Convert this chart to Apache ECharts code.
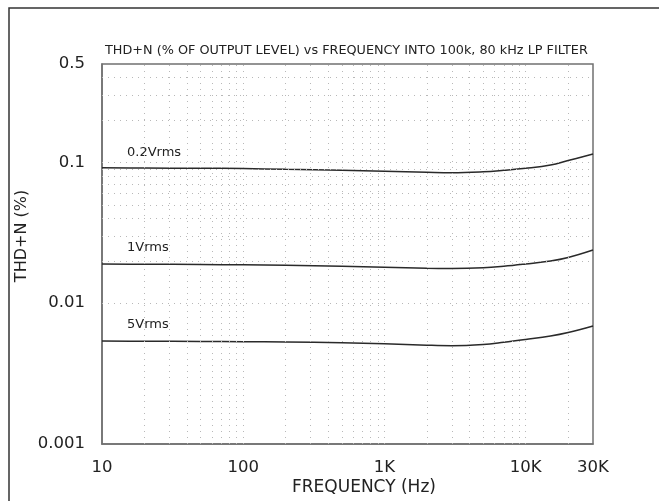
<!DOCTYPE html>
<html>
<head>
<meta charset="utf-8">
<script src="https://cdn.jsdelivr.net/npm/echarts@6/dist/echarts.min.js"></script>
<style>html,body{margin:0;padding:0;background:#fff}#c{width:659px;height:501px}</style>
</head>
<body>
<div id="c"></div>
<script>
var freqs = [10, 20, 50, 100, 200, 500, 1000, 2000, 3000, 5000, 7000, 10000, 15000, 20000, 30000];
var v02 = [0.0917, 0.0913, 0.0908, 0.0905, 0.0893, 0.0880, 0.0865, 0.0851, 0.0845, 0.0858, 0.0879, 0.0908, 0.0958, 0.1031, 0.1147];
var v1 = [0.01899, 0.01892, 0.01883, 0.01874, 0.01859, 0.01829, 0.01802, 0.01770, 0.01764, 0.01784, 0.01829, 0.01899, 0.01994, 0.02112, 0.02387];
var v5 = [0.005388, 0.005371, 0.005346, 0.005328, 0.005302, 0.005242, 0.005148, 0.005031, 0.004991, 0.005090, 0.005276, 0.005523, 0.005848, 0.006193, 0.006887];
var seriesNames = ['0.2Vrms', '1Vrms', '5Vrms'];
var xTickValues = [10, 100, 1000, 10000, 30000];
var xTickLabels = ['10', '100', '1K', '10K', '30K'];
var yTickValues = [0.001, 0.01, 0.1, 0.5];
var yTickLabels = ['0.001', '0.01', '0.1', '0.5'];
var xGridValues = [20,30,40,50,60,70,80,90,100,200,300,400,500,600,700,800,900,1000,2000,3000,4000,5000,6000,7000,8000,9000,10000,20000];
var yGridValues = [0.002,0.003,0.004,0.005,0.006,0.007,0.008,0.009,0.01,0.02,0.03,0.04,0.05,0.06,0.07,0.08,0.09,0.1,0.2,0.3,0.4];
var titleText = 'THD+N (% OF OUTPUT LEVEL) vs FREQUENCY INTO 100k, 80 kHz LP FILTER';
var xName = 'FREQUENCY (Hz)';
var yName = 'THD+N (%)';

function pairs(vals){ return freqs.map(function(f,i){ return [f, vals[i]]; }); }
var FONT = 'DejaVu Sans';
var gridStyle = {color:'#b8b8b8', width:1, type:[1,5]};
var markData = xGridValues.map(function(v){ return {xAxis:v}; })
  .concat(yGridValues.map(function(v){ return {yAxis:v}; }));

var chart = echarts.init(document.getElementById('c'), null, {renderer:'canvas'});
var lineCommon = {type:'line', smooth:0.4, showSymbol:false, symbol:'none', silent:true,
  lineStyle:{color:'#2a2a2a', width:1.5}, z:3};
chart.setOption({
  animation:false,
  backgroundColor:'#fff',
  title:{text:titleText, left:100, top:39, textStyle:{fontFamily:FONT, fontSize:12.8, fontWeight:'normal', color:'#222'}},
  grid:{left:102, top:64, width:491, height:380, show:true, borderColor:'#707070', borderWidth:1.5},
  xAxis:{type:'log', logBase:10, min:10, max:30000,
    axisLine:{show:true, lineStyle:{color:'#707070', width:1.5}},
    axisTick:{show:false}, splitLine:{show:false},
    axisLabel:{customValues:xTickValues, margin:15, fontFamily:FONT, fontSize:16.5, color:'#222',
      formatter:function(v){ var i = xTickValues.indexOf(v); return i>=0 ? xTickLabels[i] : ''; }},
  },
  yAxis:{type:'log', logBase:10, min:0.001, max:0.5,
    axisLine:{show:true, lineStyle:{color:'#707070', width:1.5}},
    axisTick:{show:false}, splitLine:{show:false},
    axisLabel:{customValues:yTickValues, margin:17, fontFamily:FONT, fontSize:16.5, color:'#222',
      formatter:function(v){ for(var i=0;i<yTickValues.length;i++){ if(Math.abs(yTickValues[i]-v)/v<1e-6) return yTickLabels[i]; } return ''; }},
  },
  graphic:[
    {type:'rect', shape:{x:9, y:8, width:700, height:600}, style:{fill:'none', stroke:'#333', lineWidth:1.5}, z:-10},
    {type:'text', left:292, top:479, style:{text:xName, font:'17px "DejaVu Sans"', fill:'#222'}},
    {type:'text', x:22, y:236, rotation:Math.PI/2, style:{text:yName, font:'16px "DejaVu Sans"', fill:'#222', align:'center', verticalAlign:'middle'}},
    {type:'text', left:127, top:146, style:{text:seriesNames[0], font:'13px "DejaVu Sans"', fill:'#222'}},
    {type:'text', left:127, top:241, style:{text:seriesNames[1], font:'13px "DejaVu Sans"', fill:'#222'}},
    {type:'text', left:127, top:318, style:{text:seriesNames[2], font:'13px "DejaVu Sans"', fill:'#222'}}
  ],
  series:[
    {type:'line', data:[], silent:true, markLine:{silent:true, symbol:'none', label:{show:false}, lineStyle:gridStyle, data:markData, animation:false}},
    Object.assign({name:seriesNames[0], data:pairs(v02)}, lineCommon),
    Object.assign({name:seriesNames[1], data:pairs(v1)}, lineCommon),
    Object.assign({name:seriesNames[2], data:pairs(v5)}, lineCommon)
  ]
});
</script>
</body>
</html>
